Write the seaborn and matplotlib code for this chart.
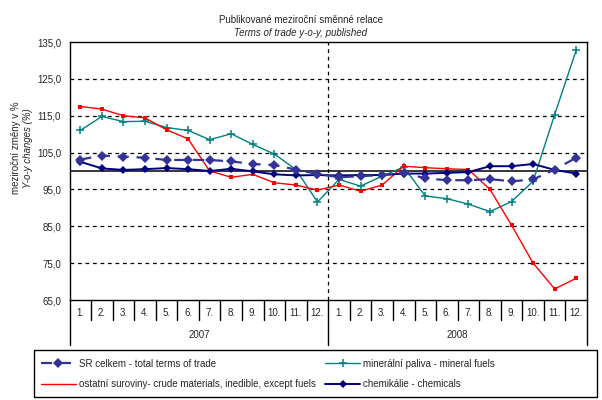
import matplotlib
matplotlib.use('Agg')
import matplotlib.pyplot as plt
from matplotlib.patches import Rectangle
from matplotlib.lines import Line2D
import seaborn as sns
import pandas as pd

# Monthly y-o-y terms of trade (%), 2007-2008
months = [f'{m}.' for m in range(1, 13)] * 2
years = ['2007', '2008']
sr_total = [103.1, 104.2, 103.9, 103.6, 103.0, 103.0, 103.0, 102.6, 101.9, 101.6, 100.4, 99.2,
            98.3, 98.6, 98.9, 99.5, 98.0, 97.5, 97.5, 97.8, 97.2, 97.7, 100.4, 103.6]
fuels = [111.0, 114.8, 113.4, 113.5, 111.8, 111.0, 108.5, 110.1, 107.2, 104.6, 100.4, 91.6,
         97.7, 95.9, 98.6, 101.1, 93.2, 92.5, 91.0, 89.0, 91.7, 97.2, 115.3, 132.8]
crude = [117.5, 116.8, 115.0, 114.4, 111.2, 108.7, 100.0, 98.3, 99.1, 96.8, 96.2, 94.8,
         96.2, 94.5, 96.2, 101.3, 100.9, 100.6, 100.4, 95.0, 85.3, 75.0, 68.0, 70.9]
chemicals = [102.5, 100.7, 100.3, 100.5, 100.8, 100.5, 100.0, 100.6, 99.9, 99.1, 98.8, 98.9,
             98.8, 98.9, 98.9, 99.3, 99.3, 99.5, 99.7, 101.3, 101.3, 101.9, 100.3, 99.3]

labels = ['SR celkem - total terms of trade',
          'ostatní suroviny- crude materials, inedible, except fuels',
          'minerální paliva - mineral fuels',
          'chemikálie - chemicals']

df = pd.DataFrame({'pos': range(len(months)), 'sr': sr_total, 'fuels': fuels,
                   'crude': crude, 'chem': chemicals})

sns.set_style('white')
plt.rcParams['font.family'] = ['Liberation Sans', 'DejaVu Sans']
plt.rcParams['font.size'] = 7

fig = plt.figure(figsize=(6.02, 4.0), dpi=100)
ax = fig.add_axes([69.5 / 602, 1 - 300 / 400, (587 - 69.5) / 602, 258 / 400])

# grid + reference line
for v in [75, 85, 95, 105, 115, 125]:
    ax.axhline(v, color='black', lw=0.9, ls=(0, (3, 3)), zorder=1)
ax.axhline(100, color='black', lw=1.1, zorder=1)
ax.axvline(11.5, color='black', lw=0.9, ls=(0, (3, 3)), zorder=1)

sns.lineplot(data=df, x='pos', y='fuels', ax=ax, color='#008080', lw=1,
             marker='+', markersize=6, markeredgewidth=1.1, markeredgecolor='#008080', zorder=3)
sns.lineplot(data=df, x='pos', y='crude', ax=ax, color='#FF0000', lw=1,
             marker='s', markersize=2.2, markeredgewidth=0, zorder=3)
sns.lineplot(data=df, x='pos', y='chem', ax=ax, color='#000080', lw=1.4,
             marker='D', markersize=4.5, markeredgewidth=0, zorder=4)
sns.lineplot(data=df, x='pos', y='sr', ax=ax, color='#333399', lw=1.6,
             linestyle=(0, (5, 3.5)), marker='D', markersize=5, markeredgewidth=0, zorder=5)

ax.set_xlim(-0.5, 23.5)
ax.set_ylim(65, 135)
ax.set_yticks(range(65, 136, 10))
ax.set_yticklabels([f'{v},0' for v in range(65, 136, 10)])
ax.set_xticks([])
ax.set_xlabel('')
ax.set_ylabel('')
ax.tick_params(axis='y', direction='out', length=4, width=1, color='black', pad=2, labelsize=7)
for s in ax.spines.values():
    s.set_color('black')
    s.set_linewidth(1)

# two-level category axis
tr = ax.get_xaxis_transform()
for k in range(25):
    bottom = -0.174 if k in (0, 12, 24) else -0.078
    ax.plot([k - 0.5, k - 0.5], [0, bottom], color='black', lw=1, transform=tr, clip_on=False)
for i, m in enumerate(months):
    ax.text(i, -0.05, m, transform=tr, ha='center', va='center', fontsize=7)
for j, y in enumerate(years):
    ax.text(j * 12 + 5.5, -0.137, y, transform=tr, ha='center', va='center', fontsize=7)

# titles
fig.text(0.5, 1 - 20 / 400, 'Publikované meziroční směnné relace', ha='center', va='center', fontsize=7)
fig.text(0.5, 1 - 33 / 400, 'Terms of trade y-o-y, published', ha='center', va='center',
         fontsize=7, style='italic')
fig.text(16 / 602, 1 - 148 / 400, 'meziroční změny v %', rotation=90, ha='center', va='center', fontsize=7)
fig.text(28 / 602, 1 - 148 / 400, 'Y-o-y changes (%)', rotation=90, ha='center', va='center',
         fontsize=7, style='italic')

# legend
handles = [
    Line2D([], [], color='#333399', lw=1.6, ls=(0, (5, 3.5)), marker='D', markersize=5, markeredgewidth=0),
    Line2D([], [], color='#FF0000', lw=1),
    Line2D([], [], color='#008080', lw=1, marker='+', markersize=6, markeredgewidth=1.1),
    Line2D([], [], color='#000080', lw=1.4, marker='D', markersize=4.5, markeredgewidth=0),
]
fig.legend(handles, labels, ncol=2, loc='center left', bbox_to_anchor=(36 / 602, 1 - 374 / 400),
           frameon=False, fontsize=7, handlelength=3.6, handletextpad=0.3, columnspacing=1.0,
           labelspacing=1.1, borderpad=0)
fig.patches.append(Rectangle((34 / 602, 1 - 397 / 400), 563 / 602, 47 / 400, transform=fig.transFigure,
                             fill=False, edgecolor='black', lw=1))

fig.savefig('out.png', dpi=100, facecolor='white')
